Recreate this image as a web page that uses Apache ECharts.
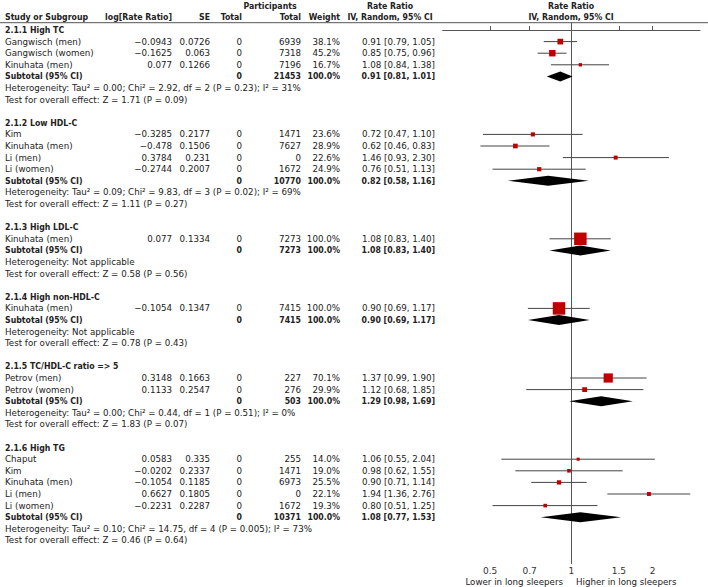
<!DOCTYPE html>
<html><head><meta charset="utf-8">
<script src="https://cdn.jsdelivr.net/npm/echarts@6/dist/echarts.min.js"></script>
<style>html,body{margin:0;padding:0;background:#fff}#c{width:708px;height:587px}</style>
</head><body><div id="c"></div>
<script>
// ---------------- data ----------------
const subgroups = ['2.1.1 High TC','2.1.2 Low HDL-C','2.1.3 High LDL-C','2.1.4 High non-HDL-C','2.1.5 TC/HDL-C ratio => 5','2.1.6 High TG'];
const studyGroup = [0,0,0,1,1,1,1,2,3,4,4,5,5,5,5,5];
const studyNames = ['Gangwisch (men)','Gangwisch (women)','Kinuhata (men)','Kim','Kinuhata (men)','Li (men)','Li (women)','Kinuhata (men)','Kinuhata (men)','Petrov (men)','Petrov (women)','Chaput','Kim','Kinuhata (men)','Li (men)','Li (women)'];
const logRR = [-0.0943,-0.1625,0.077,-0.3285,-0.478,0.3784,-0.2744,0.077,-0.1054,0.3148,0.1133,0.0583,-0.0202,-0.1054,0.6627,-0.2231];
const seValues = [0.0726,0.063,0.1266,0.2177,0.1506,0.231,0.2007,0.1334,0.1347,0.1663,0.2547,0.335,0.2337,0.1185,0.1805,0.2287];
const expTotal = [0,0,0,0,0,0,0,0,0,0,0,0,0,0,0,0];
const participants = [6939,7318,7196,1471,7627,0,1672,7273,7415,227,276,255,1471,6973,0,1672];
const weights = [38.1,45.2,16.7,23.6,28.9,22.6,24.9,100.0,100.0,70.1,29.9,14.0,19.0,25.5,22.1,19.3];
const rateRatio = [0.91,0.85,1.08,0.72,0.62,1.46,0.76,1.08,0.90,1.37,1.12,1.06,0.98,0.90,1.94,0.80];
const ciLow = [0.79,0.75,0.84,0.47,0.46,0.93,0.51,0.83,0.69,0.99,0.68,0.55,0.62,0.71,1.36,0.51];
const ciHigh = [1.05,0.96,1.38,1.10,0.83,2.30,1.13,1.40,1.17,1.90,1.85,2.04,1.55,1.14,2.76,1.25];
const subExpTotal = [0,0,0,0,0,0];
const subParticipants = [21453,10770,7273,7415,503,10371];
const subWeight = [100.0,100.0,100.0,100.0,100.0,100.0];
const subRR = [0.91,0.82,1.08,0.90,1.29,1.08];
const subLow = [0.81,0.58,0.83,0.69,0.98,0.77];
const subHigh = [1.01,1.16,1.40,1.17,1.69,1.53];
const heterogeneity = [
  'Tau\u00B2 = 0.00; Chi\u00B2 = 2.92, df = 2 (P = 0.23); I\u00B2 = 31%',
  'Tau\u00B2 = 0.09; Chi\u00B2 = 9.83, df = 3 (P = 0.02); I\u00B2 = 69%',
  'Not applicable',
  'Not applicable',
  'Tau\u00B2 = 0.00; Chi\u00B2 = 0.44, df = 1 (P = 0.51); I\u00B2 = 0%',
  'Tau\u00B2 = 0.10; Chi\u00B2 = 14.75, df = 4 (P = 0.005); I\u00B2 = 73%'
];
const overallTest = ['Z = 1.71 (P = 0.09)','Z = 1.11 (P = 0.27)','Z = 0.58 (P = 0.56)','Z = 0.78 (P = 0.43)','Z = 1.83 (P = 0.07)','Z = 0.46 (P = 0.64)'];
const tickLabels = [0.5,0.7,1,1.5,2];
const axisRange = [1/3, 3];
const footLeft = 'Lower in long sleepers';
const footRight = 'Higher in long sleepers';

// ---------------- layout ----------------
const W = 708, H = 587;
const ROW0 = 30, PITCH = 11.6, AXIS_Y = 564, HEAD_LINE_Y = 22.7;
const pxToRow = px => (px - ROW0) / PITCH;
const COL = {name:5, lrr:172, se:210, tot1:242, tot2:301, wt:340, ci:435, ciMid:390, partMid:270, plotMid:571};
const FOREST_LEFT = 442.7, FOREST_RIGHT = 700;
const FONT = '"DejaVu Sans", Verdana, sans-serif';
const FONT_BOLD = '"DejaVu Sans Condensed", "DejaVu Sans", Verdana, sans-serif';
const FS = 8.7, FS_BOLD = 8.7;
const TXT = '#222';

const fmtNum = v => (v < 0 ? '\u2212' + String(-v) : String(v));
const fmtCI = (r,l,h) => r.toFixed(2) + ' [' + l.toFixed(2) + ', ' + h.toFixed(2) + ']';

// build text items and forest marks from the arrays
const texts = [];
const studyMarks = [];
const diamondMarks = [];
function T(x,row,text,align,bold){ texts.push({x,row,text,align,bold}); }

// header
T(COL.partMid, pxToRow(6), 'Participants', 'center', true);
T(COL.ciMid, pxToRow(6), 'Rate Ratio', 'center', true);
T(COL.plotMid, pxToRow(6), 'Rate Ratio', 'center', true);
T(COL.name, pxToRow(16.5), 'Study or Subgroup', 'left', true);
T(COL.lrr, pxToRow(16.5), 'log[Rate Ratio]', 'right', true);
T(COL.se, pxToRow(16.5), 'SE', 'right', true);
T(COL.tot1, pxToRow(16.5), 'Total', 'right', true);
T(COL.tot2, pxToRow(16.5), 'Total', 'right', true);
T(COL.wt, pxToRow(16.5), 'Weight', 'right', true);
T(COL.ciMid, pxToRow(16.5), 'IV, Random, 95% CI', 'center', true);
T(COL.plotMid, pxToRow(16.5), 'IV, Random, 95% CI', 'center', true);

let row = 0;
subgroups.forEach((sg, g) => {
  T(COL.name, row, sg, 'left', true); row++;
  studyGroup.forEach((gg, i) => {
    if (gg !== g) return;
    T(COL.name, row, studyNames[i], 'left', false);
    T(COL.lrr, row, fmtNum(logRR[i]), 'right', false);
    T(COL.se, row, fmtNum(seValues[i]), 'right', false);
    T(COL.tot1, row, String(expTotal[i]), 'right', false);
    T(COL.tot2, row, String(participants[i]), 'right', false);
    T(COL.wt, row, weights[i].toFixed(1) + '%', 'right', false);
    T(COL.ci, row, fmtCI(rateRatio[i], ciLow[i], ciHigh[i]), 'right', false);
    studyMarks.push([Math.log(ciLow[i]), Math.log(ciHigh[i]), Math.log(rateRatio[i]), row, weights[i]]);
    row++;
  });
  T(COL.name, row, 'Subtotal (95% CI)', 'left', true);
  T(COL.tot1, row, String(subExpTotal[g]), 'right', true);
  T(COL.tot2, row, String(subParticipants[g]), 'right', true);
  T(COL.wt, row, subWeight[g].toFixed(1) + '%', 'right', true);
  T(COL.ci, row, fmtCI(subRR[g], subLow[g], subHigh[g]), 'right', true);
  diamondMarks.push([Math.log(subLow[g]), Math.log(subHigh[g]), Math.log(subRR[g]), row]);
  row++;
  T(COL.name, row, 'Heterogeneity: ' + heterogeneity[g], 'left', false); row++;
  T(COL.name, row, 'Test for overall effect: ' + overallTest[g], 'left', false); row++;
  row++; // blank line
});
T(563, pxToRow(581.7), footLeft, 'right', false);
T(576, pxToRow(581.7), footRight, 'left', false);

const chart = echarts.init(document.getElementById('c'), null, {renderer:'svg', width:W, height:H});

const option = {
  backgroundColor: '#fff',
  animation: false,
  grid: [
    {left:0, top:0, width:W, height:H},
    {left:FOREST_LEFT, top:HEAD_LINE_Y, width:FOREST_RIGHT-FOREST_LEFT, height:AXIS_Y-HEAD_LINE_Y}
  ],
  xAxis: [
    {gridIndex:0, type:'value', min:0, max:W, show:false},
    {gridIndex:1, type:'value', min:Math.log(axisRange[0]), max:Math.log(axisRange[1]),
     splitLine:{show:false},
     axisLine:{show:true, lineStyle:{color:'#555', width:1}},
     axisTick:{show:true, inside:true, length:4, lineStyle:{color:'#555'},
               customValues: tickLabels.filter(v => v !== 1).map(v => Math.log(v))},
     axisLabel:{show:true, margin:2, fontSize:9, color:'#333', fontFamily:FONT,
                customValues: tickLabels.map(v => Math.log(v)),
                formatter: v => String(+Math.exp(v).toFixed(2))}}
  ],
  yAxis: [
    {gridIndex:0, type:'value', inverse:true, min:pxToRow(0), max:pxToRow(H), show:false},
    {gridIndex:1, type:'value', inverse:true, min:pxToRow(HEAD_LINE_Y), max:pxToRow(AXIS_Y), show:false}
  ],
  graphic: [
    {type:'line', shape:{x1:0, y1:HEAD_LINE_Y, x2:W, y2:HEAD_LINE_Y}, style:{stroke:'#555', lineWidth:1}, z:1}
  ],
  series: [
    {
      type:'custom', name:'text', xAxisIndex:0, yAxisIndex:0, silent:true, z:3,
      data: texts.map(t => [t.x, t.row]),
      encode:{x:0, y:1},
      renderItem: (params, api) => {
        const t = texts[params.dataIndex];
        const p = api.coord([api.value(0), api.value(1)]);
        return {type:'text', x:p[0], y:p[1], style:{
          text:t.text, fill:TXT, align:t.align, verticalAlign:'middle',
          font: t.bold ? ('bold ' + FS_BOLD + 'px ' + FONT_BOLD) : (FS + 'px ' + FONT) }};
      }
    },
    {
      type:'custom', name:'studies', xAxisIndex:1, yAxisIndex:1, silent:true, z:4,
      data: studyMarks,
      encode:{x:[0,1,2], y:3},
      renderItem: (params, api) => {
        const a = api.coord([api.value(0), api.value(3)]);
        const b = api.coord([api.value(1), api.value(3)]);
        const c = api.coord([api.value(2), api.value(3)]);
        const s = 1.5 + 0.11 * api.value(4);
        return {type:'group', children:[
          {type:'line', shape:{x1:a[0], y1:a[1], x2:b[0], y2:b[1]}, style:{stroke:'#444', lineWidth:1}},
          {type:'rect', shape:{x:c[0]-s/2, y:c[1]-s/2, width:s, height:s}, style:{fill:'#C00000'}}
        ]};
      },
      markLine: {
        silent:true, symbol:'none', z:1, animation:false,
        label:{show:false},
        lineStyle:{color:'#555', width:1, type:'solid'},
        data:[{xAxis:0}]
      }
    },
    {
      type:'custom', name:'subtotals', xAxisIndex:1, yAxisIndex:1, silent:true, z:5,
      data: diamondMarks,
      encode:{x:[0,1,2], y:3},
      renderItem: (params, api) => {
        const a = api.coord([api.value(0), api.value(3)]);
        const b = api.coord([api.value(1), api.value(3)]);
        const c = api.coord([api.value(2), api.value(3)]);
        const h = 5;
        return {type:'polygon', shape:{points:[[a[0],a[1]],[c[0],c[1]-h],[b[0],b[1]],[c[0],c[1]+h]]},
                style:{fill:'#000'}};
      }
    }
  ]
};
chart.setOption(option);
</script>
</body></html>
